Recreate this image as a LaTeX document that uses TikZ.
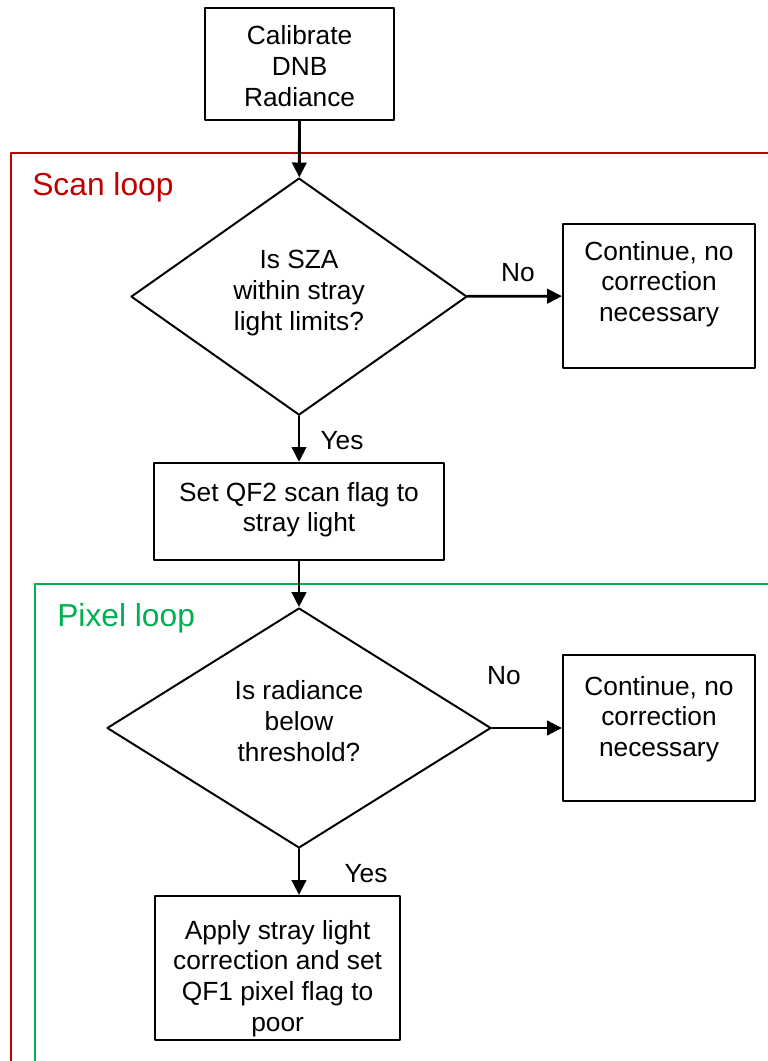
\documentclass[tikz,border=0pt]{standalone}
\usepackage{fontspec}
\setmainfont{Liberation Sans}
\usetikzlibrary{shapes.geometric,arrows.meta}
\definecolor{loopred}{HTML}{C00000}
\definecolor{loopgreen}{HTML}{00B050}
\begin{document}
\begin{tikzpicture}[line cap=round,line join=round,
  txt/.style={font=\fontsize{18.7}{21.8}\selectfont,align=center,inner sep=0pt},
  stepbox/.style={draw,line width=1.5pt,line cap=butt,inner sep=0pt},
  decision/.style={draw,diamond,line width=1.4pt,inner sep=0pt},
  flow/.style={line width=2pt,-{Triangle[length=0.37cm,width=0.36cm]}},
  looplabel/.style={font=\fontsize{22.6}{27}\selectfont,anchor=west,inner sep=0pt}]
  \useasboundingbox (0,0) rectangle (19.2,26.525);
  % loop frames
  \draw[loopred,line width=1.1pt,line cap=butt] (19.3,22.7) -- (0.275,22.7) -- (0.275,-0.1);
  \draw[loopgreen,line width=1.1pt,line cap=butt] (19.3,11.925) -- (0.875,11.925) -- (0.875,-0.1);
  \node[looplabel,text=loopred] (scanlbl) at (0.8,21.85) {Scan loop};
  \node[looplabel,text=loopgreen] (pixlbl) at (1.425,11.08) {Pixel loop};
  % boxes and decisions
  \node[stepbox,minimum width=4.725cm,minimum height=2.8cm] (calib) at (7.49,24.925) {};
  \node[decision,minimum width=8.4cm,minimum height=5.925cm] (sza) at (7.475,19.11) {};
  \node[stepbox,minimum width=4.8cm,minimum height=3.6cm] (cont1) at (16.475,19.125) {};
  \node[stepbox,minimum width=7.25cm,minimum height=2.425cm] (qf2) at (7.475,13.74) {};
  \node[decision,minimum width=9.6cm,minimum height=6.0cm] (rad) at (7.475,8.325) {};
  \node[stepbox,minimum width=4.8cm,minimum height=3.65cm] (cont2) at (16.475,8.325) {};
  \node[stepbox,minimum width=6.125cm,minimum height=3.6cm] (apply) at (6.94,2.325) {};
  % their texts, a little off centre as in the drawing
  \node[txt,yshift=-0.05cm] (calibtxt) at (calib) {Calibrate\\DNB\\Radiance};
  \node[txt,yshift=0.09cm] (szatxt) at (sza) {Is SZA\\within stray\\light limits?};
  \node[txt,yshift=0.3cm] (cont1txt) at (cont1) {Continue, no\\correction\\necessary};
  \node[txt,yshift=0.04cm] (qf2txt) at (qf2) {Set QF2 scan flag to\\stray light};
  \node[txt,yshift=0.175cm] (radtxt) at (rad) {Is radiance\\below\\threshold?};
  \node[txt,yshift=0.225cm] (cont2txt) at (cont2) {Continue, no\\correction\\necessary};
  \node[txt,yshift=-0.26cm] (applytxt) at (apply) {Apply stray light\\correction and set\\QF1 pixel flag to\\poor};
  % connectors
  \draw[flow] (calib) -- (sza);
  \draw[flow] (sza) -- (cont1);
  \draw[flow] (sza) -- (sza|-qf2.north);
  \draw[flow] (qf2.south-|rad) -- (rad);
  \draw[flow] (rad) -- (cont2);
  \draw[flow] (rad) -- (rad|-apply.north);
  \node[txt] (no1) at (12.95,19.7) {No};
  \node[txt] (yes1) at (8.55,15.5) {Yes};
  \node[txt] (no2) at (12.6,9.625) {No};
  \node[txt] (yes2) at (9.15,4.675) {Yes};
\end{tikzpicture}
\end{document}
